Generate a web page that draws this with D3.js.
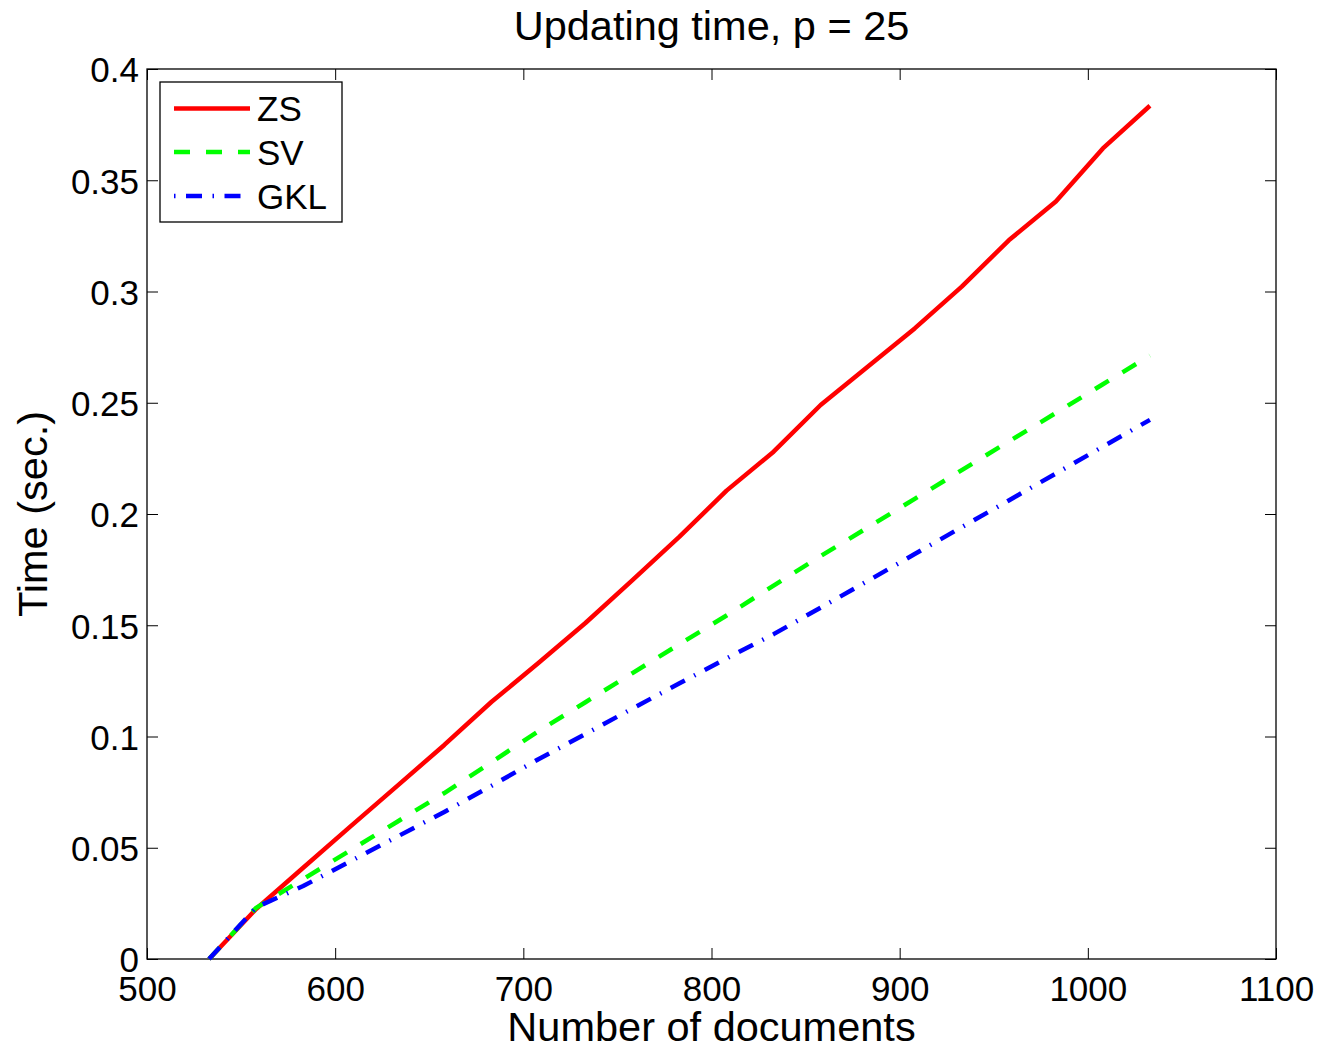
<!DOCTYPE html>
<html>
<head>
<meta charset="utf-8">
<script src="https://cdn.jsdelivr.net/npm/d3@7"></script>
<style>
  html, body { margin: 0; padding: 0; background: #fff; }
  svg { display: block; font-family: "Liberation Sans", Arial, Helvetica, sans-serif; }
</style>
</head>
<body>
<svg id="chart" width="1323" height="1049"></svg>
<script>
// ---- data ----
const docs = [533, 558, 583, 608, 633, 658, 683, 708, 733, 758, 783, 808, 833, 858, 883, 908, 933, 958, 983, 1008, 1033];
const zsTime  = [0, 0.0225, 0.0410, 0.0595, 0.0778, 0.0962, 0.1155, 0.1330, 0.1510, 0.1703, 0.1898, 0.2105, 0.2280, 0.2490, 0.2662, 0.2834, 0.3022, 0.3230, 0.3404, 0.3643, 0.3835];
const svTime  = [0, 0.0230, 0.0359, 0.0488, 0.0617, 0.0746, 0.0884, 0.1024, 0.1154, 0.1285, 0.1415, 0.1544, 0.1678, 0.1811, 0.1939, 0.2068, 0.2197, 0.2326, 0.2454, 0.2583, 0.2712];
const gklTime = [0, 0.0232, 0.0328, 0.0439, 0.0550, 0.0661, 0.0778, 0.0898, 0.1011, 0.1126, 0.1239, 0.1351, 0.1460, 0.1579, 0.1699, 0.1820, 0.1941, 0.2061, 0.2182, 0.2303, 0.2423];
const seriesNames = ["ZS", "SV", "GKL"];
const xTicks = [500, 600, 700, 800, 900, 1000, 1100];
const yTicks = [0, 0.05, 0.1, 0.15, 0.2, 0.25, 0.3, 0.35, 0.4];
const titleText = "Updating time, p = 25";
const xLabelText = "Number of documents";
const yLabelText = "Time (sec.)";

// ---- layout ----
const L = 147, R = 1276, T = 69, B = 959;
const svg = d3.select("#chart");
const x = d3.scaleLinear().domain([500, 1100]).range([L, R]);
const y = d3.scaleLinear().domain([0, 0.4]).range([B, T]);

const styles = [
  { color: "#ff0000", dash: null, legendDash: null },
  { color: "#00ff00", dash: "16,16", legendDash: "16,16" },
  { color: "#0000ff", dash: "16,10.5,1.5,10.5", legendDash: "1.5,10.5,16,10.5" }
];
const seriesData = [zsTime, svTime, gklTime];

svg.append("rect").attr("x", 0).attr("y", 0).attr("width", 1323).attr("height", 1049).attr("fill", "#fff");

const tickLen = 11;
const tickFont = 35;
const labelFont = 41.5;
const fmtY = d => d === 0 ? "0" : String(+d.toFixed(2));

// axes (D3) - bottom
const gx = svg.append("g").attr("transform", `translate(0,${B})`)
  .call(d3.axisBottom(x).tickValues(xTicks).tickSizeInner(-tickLen).tickSizeOuter(0).tickPadding(17).tickFormat(d3.format("d")));
gx.select(".domain").remove();
gx.selectAll("text").attr("font-size", tickFont).attr("fill", "#000").attr("font-family", "Liberation Sans, Arial, sans-serif");
gx.selectAll("line").attr("stroke", "#000");

// top ticks
const gxt = svg.append("g").attr("transform", `translate(0,${T})`)
  .call(d3.axisTop(x).tickValues(xTicks).tickSizeInner(-tickLen).tickSizeOuter(0).tickFormat(""));
gxt.select(".domain").remove();
gxt.selectAll("line").attr("stroke", "#000");

// left
const gy = svg.append("g").attr("transform", `translate(${L},0)`)
  .call(d3.axisLeft(y).tickValues(yTicks).tickSizeInner(-tickLen).tickSizeOuter(0).tickPadding(8).tickFormat(fmtY));
gy.select(".domain").remove();
gy.selectAll("text").attr("font-size", tickFont).attr("fill", "#000").attr("font-family", "Liberation Sans, Arial, sans-serif").attr("dy", "0.37em");
gy.selectAll("line").attr("stroke", "#000");

// right ticks
const gyr = svg.append("g").attr("transform", `translate(${R},0)`)
  .call(d3.axisRight(y).tickValues(yTicks).tickSizeInner(-tickLen).tickSizeOuter(0).tickFormat(""));
gyr.select(".domain").remove();
gyr.selectAll("line").attr("stroke", "#000");

// frame
svg.append("rect").attr("x", L).attr("y", T).attr("width", R - L).attr("height", B - T)
  .attr("fill", "none").attr("stroke", "#000").attr("stroke-width", 1.3);

// lines
const line = d3.line().x((d, i) => x(docs[i])).y(d => y(d));
seriesData.forEach((vals, i) => {
  const p = svg.append("path").datum(vals)
    .attr("d", line)
    .attr("fill", "none")
    .attr("stroke", styles[i].color)
    .attr("stroke-width", 4.5)
    .attr("stroke-linejoin", "round");
  if (styles[i].dash) p.attr("stroke-dasharray", styles[i].dash);
});

// legend
const lg = svg.append("g");
lg.append("rect").attr("x", 160).attr("y", 82).attr("width", 182).attr("height", 140)
  .attr("fill", "#fff").attr("stroke", "#000").attr("stroke-width", 1.3);
const legY = [108.5, 152, 196];
seriesNames.forEach((name, i) => {
  const l = lg.append("line").attr("x1", 174).attr("x2", 250).attr("y1", legY[i]).attr("y2", legY[i])
    .attr("stroke", styles[i].color).attr("stroke-width", 4.5);
  if (styles[i].legendDash) l.attr("stroke-dasharray", styles[i].legendDash);
  lg.append("text").attr("x", 257).attr("y", legY[i] + 12.5).attr("font-size", tickFont).attr("fill", "#000").text(name);
});

// title & labels
svg.append("text").attr("x", (L + R) / 2).attr("y", 40).attr("text-anchor", "middle")
  .attr("font-size", labelFont).attr("fill", "#000").text(titleText);
svg.append("text").attr("x", (L + R) / 2).attr("y", 1041).attr("text-anchor", "middle")
  .attr("font-size", labelFont).attr("fill", "#000").text(xLabelText);
svg.append("text").attr("transform", `translate(47,${(T + B) / 2}) rotate(-90)`).attr("text-anchor", "middle")
  .attr("font-size", labelFont).attr("fill", "#000").text(yLabelText);
</script>
</body>
</html>
